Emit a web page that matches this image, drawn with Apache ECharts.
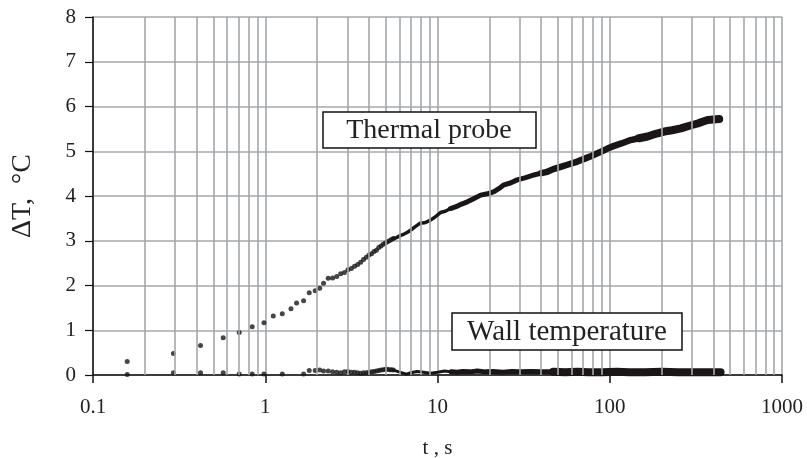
<!DOCTYPE html>
<html><head><meta charset="utf-8">
<script src="https://cdn.jsdelivr.net/npm/echarts@6/dist/echarts.min.js"></script>
<style>html,body{margin:0;padding:0;background:#fff}#c{width:807px;height:458px}</style>
</head><body><div id="c"></div>
<script>
// ---- data ----
const xTickLabels = ['0.1', '1', '10', '100', '1000'];
const yTickLabels = ['0','1','2','3','4','5','6','7','8'];
const minorGridT = [0.2,0.3,0.4,0.5,0.6,0.7,0.8,0.9, 2,3,4,5,6,7,8,9, 20,30,40,50,60,70,80,90, 200,300,400,500,600,700,800,900];

// Thermal probe: individually visible early samples
const probeT = [0.158,0.293,0.421,0.570,0.706,0.840,0.983,1.113,1.256,1.41,1.52,1.67,1.80,1.95,2.07,2.18,
  2.32,2.46,2.60,2.74,2.88,3.02,3.16,3.30,3.44,3.58,3.72,3.86,4.00,4.14,4.28,4.42,4.56,4.70,4.84,4.98,5.12,5.26,5.40,5.54];
const probeY = [0.30,0.48,0.66,0.83,0.95,1.08,1.17,1.32,1.37,1.48,1.61,1.66,1.84,1.88,1.94,2.05,
  2.16,2.17,2.20,2.26,2.29,2.35,2.38,2.43,2.47,2.52,2.58,2.63,2.68,2.71,2.76,2.79,2.85,2.88,2.92,2.95,2.98,3.00,3.03,3.05];
// Thermal probe: dense band
const probeBandT = [5.54,5.8,6.1,6.4,6.7,7.0,7.4,7.9,8.4,9.0,9.6,10.4,11.1,11.9,12.8,13.8,14.9,16.2,17.8,19.5,21.3,22.8,24.3,26.5,29.0,32.5,36.3,40,43.4,47,51.9,58,64.9,71,77.6,83,88.8,97,106,118,132,148,166,185,207,230,259,290,324,345,370,400,432];
const probeBandY = [3.05,3.07,3.12,3.15,3.19,3.24,3.31,3.39,3.40,3.45,3.52,3.63,3.66,3.72,3.76,3.82,3.87,3.94,4.02,4.05,4.10,4.17,4.25,4.29,4.36,4.41,4.47,4.51,4.54,4.60,4.65,4.71,4.77,4.83,4.89,4.94,4.99,5.06,5.12,5.18,5.25,5.29,5.33,5.39,5.44,5.47,5.51,5.57,5.62,5.66,5.70,5.71,5.72];

// Wall temperature: early samples
const wallT = [0.158,0.293,0.421,0.570,0.706,0.840,0.983,1.256,1.67,1.80,1.95,2.07,2.18,2.32,2.46,2.60,2.74,2.88,3.02,3.16,3.30,3.44,3.58,3.72,3.86,4.00,4.14,4.28,4.42,4.56,4.70,4.84,4.98,5.12,5.26,5.40,5.54];
const wallY = [0.01,0.05,0.05,0.05,0.02,0.02,0.02,0.02,0.02,0.10,0.10,0.11,0.09,0.09,0.07,0.06,0.05,0.07,0.08,0.06,0.06,0.05,0.04,0.05,0.05,0.06,0.07,0.08,0.09,0.10,0.11,0.12,0.13,0.13,0.12,0.12,0.11];
// Wall temperature: dense band
const wallBandT = [5.54,6.1,6.6,7.0,7.6,8.3,9.1,10,11,12,13,14,15.5,17,19,21,24,27,30,35,40,47,55,65,75,90,110,130,160,200,250,300,350,400,440];
const wallBandY = [0.11,0.06,0.02,0.05,0.08,0.06,0.04,0.06,0.09,0.07,0.06,0.08,0.07,0.09,0.07,0.08,0.06,0.08,0.07,0.08,0.07,0.07,0.06,0.07,0.06,0.06,0.07,0.06,0.06,0.07,0.06,0.06,0.06,0.06,0.06];

// ---- chart ----
const INK = '#1a1616';
const GRIDC = '#a4a8ac';
const FONT = 'Liberation Serif';
const pairs = (T, Y) => T.map((t, i) => [t, Y[i]]);
function band(T, Y, lo, hi, w, z) {
  const d = pairs(T, Y).filter(p => p[0] >= lo && p[0] <= hi);
  return { type: 'line', data: d, symbol: 'none', silent: true, z: z, animation: false,
    lineStyle: { color: INK, width: w, cap: 'round', join: 'round' } };
}
const chart = echarts.init(document.getElementById('c'), null, { renderer: 'canvas' });
chart.setOption({
  animation: false,
  grid: { left: 93, top: 17, right: 25, bottom: 83, containLabel: false, outerBoundsMode: 'none' },
  xAxis: {
    type: 'log', logBase: 10, min: 0.1, max: 1000,
    name: 't , s', nameLocation: 'middle', nameGap: 63,
    nameTextStyle: { fontFamily: FONT, fontSize: 21, color: '#222' },
    axisLine: { show: true, onZero: false, lineStyle: { color: '#111', width: 1.5 } },
    axisTick: { show: true, inside: false, length: 8, lineStyle: { color: '#111', width: 1.5 } },
    axisLabel: { fontFamily: FONT, fontSize: 21, color: '#222', margin: 22,
      formatter: v => xTickLabels[Math.round(Math.log10(v)) + 1] },
    splitLine: { show: true, lineStyle: { color: GRIDC, width: 1.6 } },
    minorTick: { show: false }, minorSplitLine: { show: false }
  },
  yAxis: {
    type: 'value', min: 0, max: 8, interval: 1,
    name: 'ΔT,  °C', nameLocation: 'middle', nameGap: 56, nameRotate: 90,
    nameTextStyle: { fontFamily: FONT, fontSize: 28, color: '#222' },
    axisLine: { show: true, lineStyle: { color: '#111', width: 1.5 } },
    axisTick: { show: true, inside: false, length: 8, lineStyle: { color: '#111', width: 1.2 } },
    axisLabel: { fontFamily: FONT, fontSize: 21, color: '#222', margin: 17,
      formatter: v => yTickLabels[Math.round(v)] },
    splitLine: { show: true, lineStyle: { color: GRIDC, width: 1.6 } }
  },
  series: [
    { type: 'line', data: [], z: 1, silent: true,
      markLine: { silent: true, symbol: ['none', 'none'], animation: false, label: { show: false },
        lineStyle: { color: GRIDC, width: 1.6, type: 'solid' },
        data: minorGridT.map(v => ({ xAxis: v })) } },
    { type: 'scatter', data: pairs(probeT, probeY), symbol: 'circle', symbolSize: 5, z: 3,
      itemStyle: { color: INK } },
    { type: 'scatter', data: pairs(wallT, wallY), symbol: 'circle', symbolSize: 5, z: 3,
      itemStyle: { color: INK } },
    band(probeBandT, probeBandY, 5.5, 12, 3.5, 3),
    band(probeBandT, probeBandY, 11.9, 40, 5, 3),
    band(probeBandT, probeBandY, 40, 150, 6.5, 3),
    band(probeBandT, probeBandY, 148, 1000, 8, 3),
    band(wallBandT, wallBandY, 5.5, 12, 3, 3),
    band(wallBandT, wallBandY, 12, 50, 5, 3),
    band(wallBandT, wallBandY, 47, 1000, 8, 3)
  ],
  graphic: [
    { type: 'rect', shape: { x: 323, y: 112, width: 213, height: 36 }, z: 10,
      style: { fill: '#fff', stroke: '#111', lineWidth: 1.5 } },
    { type: 'text', x: 429, y: 131, z: 11,
      style: { text: 'Thermal probe', font: '28px "Liberation Serif"', fill: '#222',
        textAlign: 'center', textVerticalAlign: 'middle', align: 'center', verticalAlign: 'middle' } },
    { type: 'rect', shape: { x: 452, y: 313, width: 230, height: 37 }, z: 10,
      style: { fill: '#fff', stroke: '#111', lineWidth: 1.5 } },
    { type: 'text', x: 567, y: 332, z: 11,
      style: { text: 'Wall temperature', font: '29px "Liberation Serif"', fill: '#222',
        textAlign: 'center', textVerticalAlign: 'middle', align: 'center', verticalAlign: 'middle' } }
  ]
});
</script></body></html>
